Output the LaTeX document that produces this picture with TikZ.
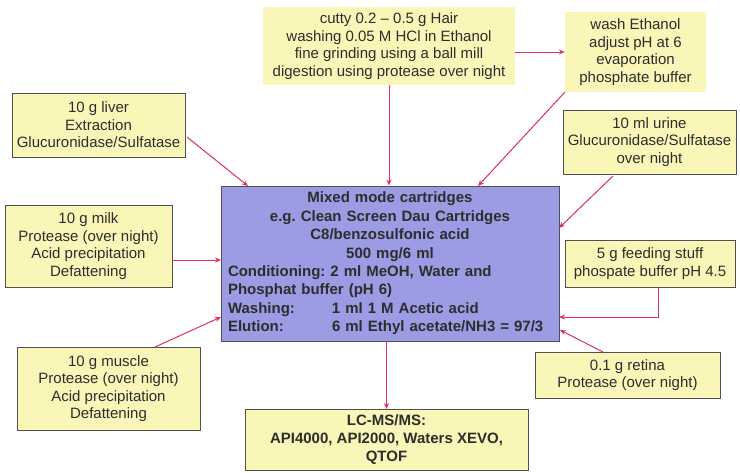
\documentclass[tikz,border=0pt]{standalone}
\usepackage{fontspec}
\setmainfont{Liberation Sans}
\usetikzlibrary{arrows.meta}
\frenchspacing
\definecolor{boxyellow}{RGB}{250,246,184}
\definecolor{boxblue}{RGB}{156,156,228}
\definecolor{arrred}{RGB}{222,48,88}
\definecolor{edgegray}{RGB}{80,80,80}
\definecolor{txt}{RGB}{45,45,45}
\tikzset{
  every node/.style={text=txt, font=\fontsize{15}{17.5}\selectfont},
  ybox/.style={fill=boxyellow, draw=edgegray, line width=0.9pt, inner sep=0pt, align=center},
  yplain/.style={fill=boxyellow, inner sep=0pt, align=center},
  arr/.style={draw=arrred, line width=1pt, -{Stealth[length=6pt,width=5pt]}},
}
\begin{document}
\begin{tikzpicture}[x=1pt,y=-1pt]
\useasboundingbox[fill=white] (0,0) rectangle (740,472);
% boxes
\node[yplain, minimum width=252pt, minimum height=78pt] (hair) at (389,46)
  {cutty 0.2 -- 0.5 g Hair\\washing 0.05 M HCl in Ethanol\\fine grinding using a ball mill\\digestion using protease over night};
\node[yplain, minimum width=141pt, minimum height=80pt] (wash) at (635.5,52)
  {wash Ethanol\\adjust pH at 6\\evaporation\\phosphate buffer};
\node[ybox, minimum width=173pt, minimum height=64pt] (liver) at (98.5,125)
  {10 g liver\\Extraction\\Glucuronidase/Sulfatase};
\node[ybox, minimum width=167pt, minimum height=82pt] (milk) at (88.5,246)
  {10 g milk\\Protease (over night)\\Acid precipitation\\Defattening};
\node[ybox, minimum width=183pt, minimum height=83pt] (muscle) at (108.5,388.5)
  {10 g muscle\\Protease (over night)\\Acid precipitation\\Defattening};
\node[ybox, minimum width=173pt, minimum height=64pt] (urine) at (649.5,142)
  {10 ml urine\\Glucuronidase/Sulfatase\\over night};
\node[ybox, minimum width=170pt, minimum height=47pt] (feed) at (650,263.5)
  {5 g feeding stuff\\phospate buffer pH 4.5};
\node[ybox, minimum width=185pt, minimum height=46pt] (retina) at (627.5,375)
  {0.1 g retina\\Protease (over night)};
\node[ybox, minimum width=283pt, minimum height=61pt, font=\bfseries\fontsize{15}{18}\selectfont] (lcms) at (386.5,440)
  {LC-MS/MS:\\API4000, API2000, Waters XEVO,\\QTOF};
\node[fill=boxblue, draw=edgegray, line width=0.9pt, minimum width=338pt, minimum height=155pt,
      inner sep=0pt, text width=324pt, font=\bfseries\fontsize{15}{18.4}\selectfont] (cart) at (390,263.5)
  {\centering Mixed mode cartridges\par
   e.g. Clean Screen Dau Cartridges\par
   C8/benzosulfonic acid\par
   500 mg/6 ml\par
   \raggedright Conditioning: 2 ml MeOH, Water and\par
   Phosphat buffer (pH 6)\par
   \makebox[104pt][l]{Washing:}1 ml 1 M Acetic acid\par
   \makebox[104pt][l]{Elution:}6 ml Ethyl acetate/NH3 = 97/3\par};
% helper coordinates
\coordinate (cHair) at (cart.north -| hair.south);
\coordinate (cWash) at (478,186);
\coordinate (cLiver) at (248,186);
\coordinate (cMilk) at (221,260);
\coordinate (cMuscle) at (221,317);
\coordinate (cUrine) at (559,228);
\coordinate (cFeed) at (559,317);
\coordinate (cRetina) at (560,330);
\coordinate (sLiver) at (187,137);
\coordinate (sMuscle) at (155,347);
\coordinate (sUrine) at (613,176);
\coordinate (sFeed) at (658,287);
\coordinate (sRetina) at (603,352);
% connectors
\draw[arr] (hair.south) -- (cHair);
\draw[arr] (hair.east |- wash.west) -- (wash.west);
\draw[arr] (wash.south west) -- (cWash);
\draw[arr] (sLiver) -- (cLiver);
\draw[arr] (milk.east |- cMilk) -- (cMilk);
\draw[arr] (sMuscle) -- (cMuscle);
\draw[arr] (sUrine) -- (cUrine);
\draw[arr] (sFeed) |- (cFeed);
\draw[arr] (sRetina) -- (cRetina);
\draw[arr] (cart.south -| lcms.north) -- (lcms.north);
\end{tikzpicture}
\end{document}
